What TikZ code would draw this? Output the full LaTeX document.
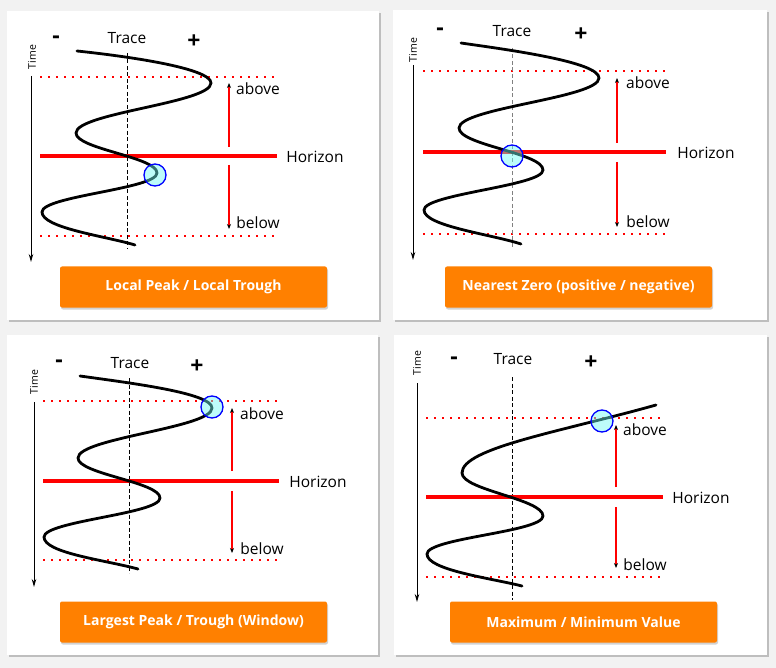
\documentclass[tikz,border=0pt]{standalone}
\usepackage{fontspec}
\setmainfont{Open Sans}
\usetikzlibrary{arrows.meta,shadows}
\definecolor{btnorange}{RGB}{255,128,0}
\definecolor{pagegray}{RGB}{242,242,242}
\definecolor{pickfill}{RGB}{110,250,245}

\tikzset{
    panel/.style={fill=white, draw=none, drop shadow={shadow xshift=1.5pt, shadow yshift=-2pt, opacity=0.45}},
    button/.style={fill=btnorange, rounded corners=2pt, text=white, font=\bfseries\fontsize{14}{16}\selectfont, minimum width=267pt, minimum height=41pt, inner sep=0pt, drop shadow={shadow xshift=1pt, shadow yshift=-2pt, opacity=0.35}},
    horizonline/.style={red, line width=3.5pt},
    levelline/.style={red, line width=2pt, dash pattern=on 2pt off 6pt},
    tracecurve/.style={black, line width=2.8pt, line cap=round},
    zeroline/.style={black, line width=0.7pt, dash pattern=on 4pt off 2.5pt},
    rangearrow/.style={red, line width=1.5pt, -{Stealth[black, length=5pt, width=4pt]}},
    timeaxis/.style={black, line width=1pt, -{Stealth[length=8pt, width=4.5pt]}},
    pick/.style={circle, draw=blue, line width=1.3pt, fill=pickfill, fill opacity=0.45, minimum size=22pt, inner sep=0pt},
    lbl/.style={font=\fontsize{15.5}{18}\selectfont},
    sign/.style={font=\bfseries\fontsize{23}{25}\selectfont},
    timelbl/.style={rotate=90, font=\fontsize{10.5}{12}\selectfont}
}

\begin{document}
\begin{tikzpicture}[x=1pt, y=-1pt]
    \fill[pagegray] (0,0) rectangle (776,668);
    \useasboundingbox (0,0) rectangle (776,668);

    \foreach \a/\b/\c/\d in {7/11/379/320, 393/10/767/320, 7/335/378/655, 394/335/767/655} {
        \path[panel] (\a,\b) rectangle (\c,\d);
    }

    % local peak / local trough
    \draw[levelline] (40,77) -- (276,77); \draw[levelline] (40,236) -- (276,236);
    \draw[zeroline] (127,53) -- (127,249);
    \draw[horizonline] (40,156) -- (277,156);
    \node[lbl] (hor1) at (315,157) {Horizon};
    \node[lbl] (abv1) at (258,89) {above}; \node[lbl] (blw1) at (258,223) {below};
    \coordinate (up1a) at (229,147); \coordinate (up1b) at (229,83);
    \coordinate (dn1a) at (229,165); \coordinate (dn1b) at (229,229);
    \draw[rangearrow] (up1a) -- (up1b); \draw[rangearrow] (dn1a) -- (dn1b);
    \draw[tracecurve] (77,51) .. controls (125,56) and (211,68) .. (211,83)
        .. controls (211,103) and (76,113) .. (76,133)
        .. controls (76,149) and (157,157) .. (157,173)
        .. controls (157,189) and (42,196) .. (42,212)
        .. controls (42,228) and (105,236) .. (135,245);
    \node[pick] (pk1) at (155,175) {};
    \coordinate (t1a) at (31,76); \coordinate (t1b) at (31,262);
    \draw[timeaxis] (t1a) -- (t1b);
    \node[timelbl] (time1) at (32,57) {Time};
    \node[sign] (neg1) at (56,40) {-}; \node[lbl] (trace1) at (127,38) {Trace}; \node[sign] (pos1) at (194,42) {+};
    \node[button] (btn1) at (193.5,287) {Local Peak / Local Trough};

    % nearest zero
    \draw[levelline] (423,71) -- (666,71); \draw[levelline] (423,234) -- (666,234);
    \draw[zeroline, gray, line width=1pt] (512,48) -- (512,247);
    \draw[horizonline] (423,152) -- (666,152);
    \node[lbl] (hor2) at (706,153) {Horizon};
    \node[lbl] (abv2) at (648,83) {above}; \node[lbl] (blw2) at (648,222) {below};
    \coordinate (up2a) at (617,143); \coordinate (up2b) at (617,78);
    \coordinate (dn2a) at (617,162); \coordinate (dn2b) at (617,227);
    \draw[rangearrow] (up2a) -- (up2b); \draw[rangearrow] (dn2a) -- (dn2b);
    \draw[tracecurve] (461,43) .. controls (510,50) and (599,62) .. (599,78)
        .. controls (599,98) and (459,108) .. (459,128)
        .. controls (459,145) and (543,153) .. (543,170)
        .. controls (543,186) and (424,194) .. (424,210)
        .. controls (424,226) and (490,234) .. (521,244);
    \node[pick] (pk2) at (512,156) {};
    \coordinate (t2a) at (413,65); \coordinate (t2b) at (413,260);
    \draw[timeaxis] (t2a) -- (t2b);
    \node[timelbl] (time2) at (413,50) {Time};
    \node[sign] (neg2) at (440,32) {-}; \node[lbl] (trace2) at (512,31) {Trace}; \node[sign] (pos2) at (581,35) {+};
    \node[button] (btn2) at (578.5,287) {Nearest Zero (positive / negative)};

    % largest peak / trough
    \draw[levelline] (43,401) -- (279,401); \draw[levelline] (43,560) -- (279,560);
    \draw[zeroline] (129,378) -- (129,573);
    \draw[horizonline] (43,481) -- (279,481);
    \node[lbl] (hor3) at (318,482) {Horizon};
    \node[lbl] (abv3) at (262,414) {above}; \node[lbl] (blw3) at (262,549) {below};
    \coordinate (up3a) at (232,471); \coordinate (up3b) at (232,408);
    \coordinate (dn3a) at (232,491); \coordinate (dn3b) at (232,553);
    \draw[rangearrow] (up3a) -- (up3b); \draw[rangearrow] (dn3a) -- (dn3b);
    \draw[tracecurve] (80,376) .. controls (130,383) and (212,393) .. (212,408)
        .. controls (212,428) and (78,438) .. (78,458)
        .. controls (78,474) and (160,482) .. (160,498)
        .. controls (160,514) and (44,521) .. (44,537)
        .. controls (44,553) and (105,560) .. (138,569);
    \node[pick] (pk3) at (212,407) {};
    \coordinate (t3a) at (34,402); \coordinate (t3b) at (34,587);
    \draw[timeaxis] (t3a) -- (t3b);
    \node[timelbl] (time3) at (34,382) {Time};
    \node[sign] (neg3) at (59,364) {-}; \node[lbl] (trace3) at (130,363) {Trace}; \node[sign] (pos3) at (197,367) {+};
    \node[button] (btn3) at (193.5,622) {Largest Peak / Trough (Window)};

    % maximum / minimum value
    \draw[levelline] (426,418) -- (662,418); \draw[levelline] (426,577) -- (662,577);
    \draw[zeroline] (512,377) -- (512,600);
    \draw[horizonline] (426,497) -- (663,497);
    \node[lbl] (hor4) at (701,498) {Horizon};
    \node[lbl] (abv4) at (645,430) {above}; \node[lbl] (blw4) at (645,565) {below};
    \coordinate (up4a) at (616,487); \coordinate (up4b) at (616,425);
    \coordinate (dn4a) at (616,507); \coordinate (dn4b) at (616,568);
    \draw[rangearrow] (up4a) -- (up4b); \draw[rangearrow] (dn4a) -- (dn4b);
    \draw[tracecurve] (656,405) .. controls (560,432) and (462,448) .. (462,473)
        .. controls (462,490) and (543,499) .. (543,516)
        .. controls (543,532) and (427,538) .. (427,554)
        .. controls (427,570) and (490,578) .. (522,586);
    \node[pick] (pk4) at (602,421) {};
    \coordinate (t4a) at (417,383); \coordinate (t4b) at (417,602);
    \draw[timeaxis] (t4a) -- (t4b);
    \node[timelbl] (time4) at (417,363) {Time};
    \node[sign] (neg4) at (454,361) {-}; \node[lbl] (trace4) at (513,359) {Trace}; \node[sign] (pos4) at (591,363) {+};
    \node[button] (btn4) at (583.5,622) {Maximum / Minimum Value};
\end{tikzpicture}
\end{document}
